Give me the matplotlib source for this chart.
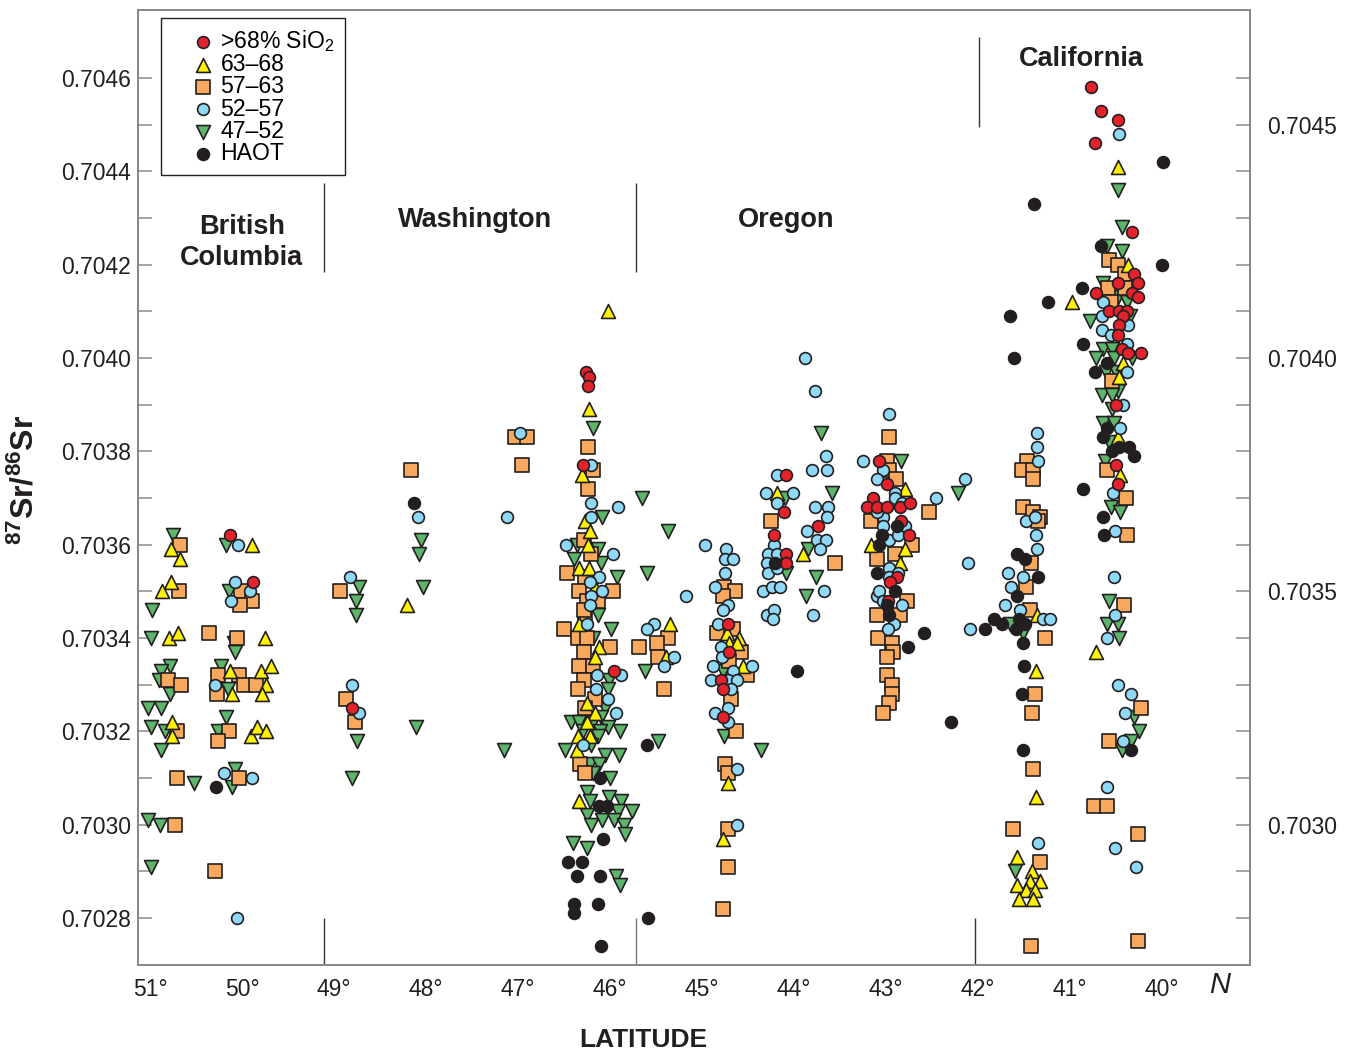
import numpy as np
import matplotlib
matplotlib.use('Agg')
import matplotlib.pyplot as plt
from matplotlib.ticker import FixedLocator

plt.rcParams['font.family'] = ['Liberation Sans', 'DejaVu Sans']
plt.rcParams['mathtext.fontset'] = 'custom'
plt.rcParams['mathtext.rm'] = 'Liberation Sans'
plt.rcParams['mathtext.it'] = 'Liberation Sans:italic'
plt.rcParams['mathtext.bf'] = 'Liberation Sans:bold'

# ---------------- data: (latitude N, 87Sr/86Sr) ----------------
sio2_gt68 = np.array([
    (50.13,0.70362),(49.88,0.70352),(48.80,0.70325),
    (46.26,0.70397),(46.23,0.70396),(46.24,0.70394),(46.29,0.70377),(45.96,0.70333),
    (44.08,0.70375),(44.11,0.70367),(44.22,0.70362),(43.74,0.70364),(44.08,0.70358),(44.08,0.70356),
    (44.71,0.70343),(44.70,0.70337),(44.79,0.70331),(44.77,0.70329),(44.77,0.70323),
    (43.07,0.70378),(42.99,0.70373),(43.14,0.70370),(43.20,0.70368),(43.10,0.70368),(42.99,0.70368),
    (42.85,0.70368),(42.74,0.70369),(42.83,0.70365),(42.75,0.70362),(42.88,0.70353),(42.95,0.70352),(42.98,0.70348),
    (40.77,0.70458),(40.66,0.70453),(40.48,0.70451),(40.73,0.70446),(40.32,0.70427),(40.30,0.70418),
    (40.48,0.70416),(40.26,0.70416),(40.32,0.70414),(40.71,0.70414),(40.26,0.70413),(40.57,0.70410),
    (40.46,0.70410),(40.38,0.70410),(40.42,0.70409),(40.46,0.70407),(40.48,0.70405),(40.43,0.70402),
    (40.37,0.70401),(40.23,0.70401),(40.50,0.70390),(40.50,0.70377),(40.47,0.70373)])

sio2_63_68 = np.array([
    (50.77,0.70359),(50.67,0.70357),(49.89,0.70360),(50.77,0.70352),(50.87,0.70350),(50.79,0.70340),
    (50.70,0.70341),(49.75,0.70340),(50.13,0.70333),(49.79,0.70333),(49.68,0.70334),(49.74,0.70330),
    (49.78,0.70328),(50.11,0.70328),(50.76,0.70322),(50.76,0.70319),(49.90,0.70319),(49.84,0.70321),(49.74,0.70320),
    (48.20,0.70347),
    (46.02,0.70410),(46.23,0.70389),(46.30,0.70375),(46.27,0.70365),(46.22,0.70363),(46.24,0.70360),
    (46.33,0.70355),(46.23,0.70355),(46.16,0.70351),(46.33,0.70343),(46.12,0.70338),(46.16,0.70336),
    (46.25,0.70326),(46.16,0.70324),(46.25,0.70322),(46.35,0.70319),(46.22,0.70319),(46.36,0.70316),
    (46.34,0.70305),(45.35,0.70343),(45.39,0.70336),
    (44.18,0.70371),(43.90,0.70358),
    (44.73,0.70341),(44.60,0.70340),(44.70,0.70339),(44.62,0.70339),(44.55,0.70334),(44.72,0.70309),(44.77,0.70297),
    (42.79,0.70372),(43.16,0.70360),(42.79,0.70359),(42.85,0.70356),
    (41.36,0.70345),(41.37,0.70333),(41.37,0.70306),(41.57,0.70293),(41.41,0.70290),(41.32,0.70288),
    (41.57,0.70287),(41.43,0.70288),(41.47,0.70286),(41.38,0.70286),(41.55,0.70284),(41.40,0.70284),
    (40.48,0.70441),(40.37,0.70420),(40.97,0.70412),(40.42,0.70399),(40.46,0.70396),(40.48,0.70383),
    (40.45,0.70375),(40.71,0.70337)])

sio2_57_63 = np.array([
    (50.67,0.70360),(50.68,0.70350),(50.01,0.70350),(49.89,0.70348),(50.02,0.70347),(50.36,0.70341),
    (50.05,0.70340),(50.80,0.70331),(50.66,0.70330),(50.26,0.70332),(50.03,0.70332),(49.98,0.70330),
    (49.85,0.70330),(50.27,0.70328),(50.71,0.70320),(50.14,0.70320),(50.26,0.70318),(50.71,0.70310),
    (50.03,0.70310),(50.73,0.70300),(50.29,0.70290),
    (47.03,0.70383),(46.90,0.70383),(46.96,0.70377),(48.16,0.70376),(48.93,0.70350),(48.87,0.70327),(48.77,0.70322),
    (46.24,0.70381),(46.18,0.70376),(46.24,0.70372),(46.28,0.70361),(46.21,0.70358),(46.47,0.70354),
    (46.27,0.70353),(45.97,0.70350),(46.33,0.70350),(46.25,0.70348),(46.13,0.70348),(46.27,0.70345),
    (46.28,0.70346),(46.50,0.70342),(46.35,0.70340),(46.25,0.70340),(46.00,0.70338),(46.28,0.70337),
    (46.33,0.70334),(46.18,0.70334),(46.28,0.70331),(46.35,0.70329),(46.16,0.70327),(46.27,0.70325),
    (46.32,0.70313),(46.27,0.70311),
    (45.37,0.70340),(45.49,0.70339),(45.68,0.70338),(45.48,0.70336),(45.41,0.70329),
    (44.25,0.70365),(43.55,0.70356),
    (44.76,0.70351),(44.64,0.70350),(44.77,0.70349),(44.84,0.70341),(44.66,0.70342),(44.57,0.70337),
    (44.70,0.70335),(44.51,0.70332),(44.68,0.70327),(44.63,0.70320),(44.75,0.70313),(44.72,0.70311),
    (44.72,0.70299),(44.72,0.70291),(44.77,0.70282),
    (42.97,0.70383),(42.99,0.70378),(42.96,0.70376),(42.89,0.70374),(42.53,0.70367),(43.16,0.70365),
    (42.72,0.70360),(42.90,0.70358),(43.10,0.70357),(42.77,0.70348),(43.09,0.70345),(42.85,0.70345),
    (43.08,0.70340),(42.93,0.70339),(42.92,0.70337),(42.99,0.70336),(42.99,0.70332),(42.93,0.70330),
    (42.93,0.70328),(42.97,0.70326),(43.03,0.70324),
    (41.46,0.70378),(41.52,0.70376),(41.40,0.70376),(41.40,0.70374),(41.51,0.70368),(41.40,0.70367),
    (41.32,0.70366),(41.35,0.70365),(41.42,0.70356),(41.47,0.70351),(41.43,0.70346),(41.27,0.70340),
    (41.38,0.70328),(41.41,0.70324),(41.40,0.70312),(41.62,0.70299),(41.32,0.70292),(41.42,0.70274),
    (40.57,0.70421),(40.48,0.70420),(40.40,0.70418),(40.58,0.70415),(40.40,0.70415),(40.55,0.70412),
    (40.54,0.70395),(40.59,0.70376),(40.39,0.70370),(40.38,0.70362),(40.41,0.70347),(40.22,0.70325),
    (40.57,0.70318),(40.74,0.70304),(40.60,0.70304),(40.26,0.70298),(40.26,0.70275)])

sio2_52_57 = np.array([
    (50.04,0.70360),(50.07,0.70352),(49.91,0.70350),(50.12,0.70348),(50.29,0.70330),(50.20,0.70311),
    (49.89,0.70310),(50.05,0.70280),
    (46.98,0.70384),(48.09,0.70366),(47.12,0.70366),(48.82,0.70353),(48.80,0.70330),(48.73,0.70324),
    (46.20,0.70377),(46.20,0.70369),(45.91,0.70368),(46.20,0.70366),(46.48,0.70360),(45.97,0.70358),
    (46.12,0.70353),(46.22,0.70352),(46.08,0.70350),(46.20,0.70349),(46.22,0.70347),(45.17,0.70349),
    (45.52,0.70343),(46.25,0.70343),(46.14,0.70332),(45.88,0.70332),(46.15,0.70329),(46.02,0.70327),
    (45.93,0.70324),(46.29,0.70317),(45.60,0.70342),(45.30,0.70336),(45.41,0.70334),
    (43.88,0.70400),(43.77,0.70393),(43.65,0.70379),(43.80,0.70376),(43.64,0.70376),(44.18,0.70375),
    (44.30,0.70371),(44.01,0.70371),(44.18,0.70369),(43.77,0.70368),(43.63,0.70368),(43.64,0.70366),
    (43.86,0.70363),(44.22,0.70360),(43.75,0.70361),(43.65,0.70361),(43.71,0.70359),(44.28,0.70358),
    (44.18,0.70358),(44.29,0.70356),(44.28,0.70354),(44.18,0.70355),(43.67,0.70350),(44.33,0.70350),
    (44.24,0.70351),(44.15,0.70351),(44.29,0.70345),(44.21,0.70346),(44.23,0.70344),(43.79,0.70345),
    (44.96,0.70360),(44.74,0.70359),(44.75,0.70357),(44.66,0.70357),(44.75,0.70354),(44.86,0.70351),
    (44.72,0.70347),(44.77,0.70346),(44.82,0.70343),(44.79,0.70338),(44.78,0.70336),(44.88,0.70334),
    (44.66,0.70333),(44.45,0.70334),(44.90,0.70331),(44.72,0.70331),(44.62,0.70331),(44.68,0.70329),
    (44.72,0.70325),(44.86,0.70324),(44.72,0.70322),(44.62,0.70312),(44.62,0.70300),
    (42.96,0.70388),(43.25,0.70378),(43.03,0.70376),(43.10,0.70374),(42.14,0.70374),(42.45,0.70370),
    (42.90,0.70371),(42.90,0.70370),(42.82,0.70369),(43.03,0.70366),(43.10,0.70367),(43.03,0.70364),
    (42.79,0.70364),(42.96,0.70361),(42.87,0.70362),(42.96,0.70355),(42.87,0.70354),(42.97,0.70353),
    (43.10,0.70349),(43.07,0.70350),(42.82,0.70347),(43.03,0.70348),(42.91,0.70343),(42.98,0.70342),
    (42.11,0.70356),(42.08,0.70342),
    (41.36,0.70384),(41.36,0.70381),(41.35,0.70378),(41.48,0.70365),(41.38,0.70366),(41.37,0.70362),
    (41.36,0.70359),(41.67,0.70354),(41.51,0.70353),(41.64,0.70351),(41.70,0.70347),(41.54,0.70346),
    (41.29,0.70344),(41.21,0.70344),(41.35,0.70296),
    (40.46,0.70448),(40.64,0.70412),(40.65,0.70409),(40.37,0.70407),(40.65,0.70406),(40.55,0.70405),
    (40.38,0.70403),(40.38,0.70397),(40.42,0.70390),(40.45,0.70385),(40.53,0.70371),(40.51,0.70363),
    (40.52,0.70353),(40.51,0.70345),(40.60,0.70340),(40.47,0.70330),(40.33,0.70328),(40.40,0.70324),
    (40.42,0.70318),(40.60,0.70308),(40.51,0.70295),(40.28,0.70291)])

sio2_47_52 = np.array([
    (50.75,0.70362),(50.17,0.70360),(50.98,0.70346),(50.14,0.70350),(50.99,0.70340),(50.09,0.70339),
    (50.08,0.70337),(50.78,0.70334),(50.88,0.70333),(50.90,0.70331),(50.78,0.70328),(50.23,0.70334),
    (50.15,0.70329),(51.02,0.70325),(50.88,0.70325),(50.99,0.70321),(50.84,0.70320),(50.88,0.70316),
    (50.17,0.70323),(50.26,0.70320),(50.52,0.70309),(50.07,0.70312),(50.11,0.70308),(51.02,0.70301),
    (50.89,0.70300),(50.99,0.70291),
    (48.05,0.70361),(48.08,0.70358),(48.03,0.70351),(48.73,0.70351),(48.76,0.70348),(48.76,0.70345),
    (48.75,0.70318),(48.11,0.70321),(47.15,0.70316),(48.80,0.70310),
    (46.18,0.70385),(45.65,0.70370),(46.09,0.70366),(45.37,0.70363),(46.36,0.70360),(46.13,0.70359),
    (46.39,0.70357),(46.10,0.70356),(45.92,0.70353),(45.60,0.70354),(46.13,0.70345),(45.99,0.70342),
    (46.18,0.70340),(46.01,0.70331),(46.02,0.70329),(46.05,0.70325),(46.10,0.70323),(46.42,0.70322),
    (46.34,0.70322),(46.18,0.70322),(46.02,0.70321),(45.89,0.70320),(46.11,0.70320),(46.29,0.70320),
    (46.13,0.70319),(46.49,0.70316),(46.20,0.70317),(46.05,0.70315),(45.90,0.70315),(46.22,0.70313),
    (46.12,0.70313),(46.18,0.70311),(46.00,0.70310),(45.48,0.70318),(46.25,0.70307),(46.22,0.70305),
    (46.01,0.70306),(45.88,0.70305),(45.76,0.70303),(45.91,0.70303),(46.25,0.70302),(46.09,0.70301),
    (46.20,0.70300),(45.96,0.70301),(45.85,0.70300),(45.83,0.70298),(46.40,0.70296),(46.25,0.70295),
    (45.93,0.70289),(45.89,0.70287),(45.62,0.70333),
    (43.70,0.70384),(44.10,0.70370),(43.59,0.70371),(43.85,0.70359),(44.09,0.70354),(43.76,0.70353),(43.87,0.70349),
    (44.77,0.70333),(44.76,0.70319),(44.36,0.70316),
    (42.83,0.70378),(42.21,0.70371),
    (41.65,0.70343),(41.51,0.70341),(41.59,0.70290),
    (40.48,0.70436),(40.43,0.70428),(40.60,0.70424),(40.43,0.70423),(40.64,0.70416),(40.48,0.70413),
    (40.38,0.70412),(40.78,0.70408),(40.35,0.70409),(40.64,0.70402),(40.54,0.70402),(40.71,0.70400),
    (40.52,0.70400),(40.32,0.70400),(40.61,0.70397),(40.50,0.70397),(40.48,0.70393),(40.65,0.70392),
    (40.54,0.70392),(40.54,0.70389),(40.64,0.70386),(40.52,0.70386),(40.57,0.70382),(40.62,0.70378),
    (40.55,0.70368),(40.45,0.70367),(40.57,0.70348),(40.59,0.70343),(40.47,0.70343),(40.46,0.70340),
    (40.30,0.70323),(40.25,0.70320),(40.33,0.70318),(40.43,0.70316)])

haot = np.array([
    (50.28,0.70308),(48.13,0.70369),
    (46.11,0.70310),(45.60,0.70317),(46.12,0.70304),(46.03,0.70304),(46.07,0.70297),(46.46,0.70292),
    (46.30,0.70292),(46.36,0.70289),(46.11,0.70289),(46.39,0.70283),(46.39,0.70281),(46.13,0.70283),
    (45.58,0.70280),(46.10,0.70274),
    (44.20,0.70356),(43.97,0.70333),
    (42.88,0.70364),(43.04,0.70362),(43.07,0.70360),(43.10,0.70354),(42.90,0.70350),(42.99,0.70347),
    (42.96,0.70345),(42.58,0.70341),(42.76,0.70338),(42.29,0.70322),(41.92,0.70342),(41.82,0.70344),(41.74,0.70343),
    (41.39,0.70433),(41.24,0.70412),(41.65,0.70409),(41.61,0.70400),(41.57,0.70358),(41.49,0.70357),
    (41.34,0.70353),(41.57,0.70349),(41.55,0.70344),(41.49,0.70343),(41.58,0.70342),(41.51,0.70339),
    (41.50,0.70334),(41.52,0.70328),(41.51,0.70316),
    (39.99,0.70442),(40.66,0.70424),(40.00,0.70420),(40.87,0.70415),(40.86,0.70403),(40.60,0.70399),
    (40.72,0.70397),(40.59,0.70385),(40.64,0.70383),(40.46,0.70381),(40.36,0.70381),(40.54,0.70380),
    (40.30,0.70379),(40.86,0.70372),(40.64,0.70366),(40.63,0.70362),(40.33,0.70316)])

legend_labels = ['>68% SiO$_2$', '63\u201368', '57\u201363', '52\u201357', '47\u201352', 'HAOT']
lat_ticks = [51, 50, 49, 48, 47, 46, 45, 44, 43, 42, 41, 40]
left_ticks = [0.7028, 0.7030, 0.7032, 0.7034, 0.7036, 0.7038, 0.7040, 0.7042, 0.7044, 0.7046]
right_ticks = [0.7030, 0.7035, 0.7040, 0.7045]
regions = ['British\nColumbia', 'Washington', 'Oregon', 'California']
region_pos = [(50.0, 0.704248), (47.47, 0.704296), (44.08, 0.704296), (40.87, 0.704640)]

# ---------------- figure ----------------
fig = plt.figure(figsize=(13.5, 10.53), dpi=100)
ax = fig.add_axes([138/1350, 1-965/1053, 1112/1350, 955/1053])
ylo, yhi = 0.702699, 0.704746
ax.set_xlim(51.13, 39.04)
ax.set_ylim(ylo, yhi)

edge = '#231F20'
styles = [
    (sio2_47_52, dict(marker='v', c='#5CB56A', s=100), 3),
    (sio2_57_63, dict(marker='s', c='#F8A95E', s=90), 4),
    (sio2_63_68, dict(marker='^', c='#FFF200', s=100), 5),
    (sio2_52_57, dict(marker='o', c='#8ED8F8', s=72), 6),
    (sio2_gt68, dict(marker='o', c='#E4222B', s=72), 7),
    (haot, dict(marker='o', c='#231F20', s=72), 8),
]
handles = {}
for arr, st, z in styles:
    h = ax.scatter(arr[:, 0], arr[:, 1], edgecolors=edge, linewidths=1.2, zorder=z, **st)
    handles[id(arr)] = h

order = [sio2_gt68, sio2_63_68, sio2_57_63, sio2_52_57, sio2_47_52, haot]
leg = ax.legend([handles[id(a)] for a in order], legend_labels, loc='upper left',
                bbox_to_anchor=(23/1112, 1-8/955), borderaxespad=0, fontsize=16.6,
                labelspacing=-0.04, handlelength=2.75, handletextpad=-0.62, borderpad=0.45,
                scatterpoints=1, fancybox=False, framealpha=1, edgecolor='#231F20')
leg.get_frame().set_linewidth(1.0)
leg.set_zorder(20)

# region dividers
dcol = '#333333'
ax.vlines(49.11, 0.704184, 0.704375, color=dcol, lw=1.0, zorder=2)
ax.vlines(45.72, 0.704184, 0.704375, color=dcol, lw=1.0, zorder=2)
ax.vlines(41.99, 0.704495, 0.704688, color=dcol, lw=1.0, zorder=2)
ax.vlines(49.11, ylo, 0.7028, color=dcol, lw=1.0, zorder=2)
ax.vlines(45.72, ylo, 0.7028, color='#777777', lw=1.0, zorder=2)
ax.vlines(42.03, ylo, 0.7028, color=dcol, lw=1.0, zorder=2)

for name, (x, y) in zip(regions, region_pos):
    ax.text(x, y, name, ha='center', va='center', fontsize=19.5, fontweight='bold',
            color='#231F20', linespacing=1.22, zorder=10)

# axes styling
spc = '#8a8a8a'
for sp in ax.spines.values():
    sp.set_color(spc)
    sp.set_linewidth(1.4)

ax.set_xticks(lat_ticks)
ax.set_xticklabels([f'{d}\u00b0' for d in lat_ticks])
ax.tick_params(axis='x', length=0, pad=9, labelsize=16.5, labelcolor='#231F20')

ax.yaxis.set_major_locator(FixedLocator(left_ticks))
ax.set_yticklabels([f'{v:.4f}' for v in left_ticks])
ax.yaxis.set_minor_locator(FixedLocator([0.7029 + 0.0002*i for i in range(9)]))
ax.tick_params(axis='y', which='both', direction='in', length=10, width=1.1, color=spc,
               labelsize=16.5, labelcolor='#231F20', pad=5)

ax2 = ax.twinx()
ax2.set_ylim(ylo, yhi)
ax2.yaxis.set_major_locator(FixedLocator(right_ticks))
ax2.set_yticklabels([f'{v:.4f}' for v in right_ticks])
minor_r = [0.7028 + 0.0001*i for i in range(19)]
minor_r = [v for v in minor_r if min(abs(v - r) for r in right_ticks) > 1e-7]
ax2.yaxis.set_minor_locator(FixedLocator(minor_r))
ax2.tick_params(axis='y', which='both', direction='in', length=10, width=1.1, color=spc,
                labelsize=16.5, labelcolor='#231F20', pad=12)
for sp in ax2.spines.values():
    sp.set_color(spc)
    sp.set_linewidth(1.4)

ax.text(39.37, -0.021, 'N', transform=ax.get_xaxis_transform(), ha='center', va='center',
        fontsize=21, style='italic', color='#231F20')
fig.text(643/1350, 1-1040/1053, 'LATITUDE', ha='center', va='center', fontsize=19,
         fontweight='bold', color='#231F20')
fig.text(25/1350, 1-480/1053, r'$\mathbf{^{87}Sr/^{86}Sr}$', rotation=90, ha='center',
         va='center', fontsize=23, color='#231F20')

fig.savefig('out.png', dpi=100)
